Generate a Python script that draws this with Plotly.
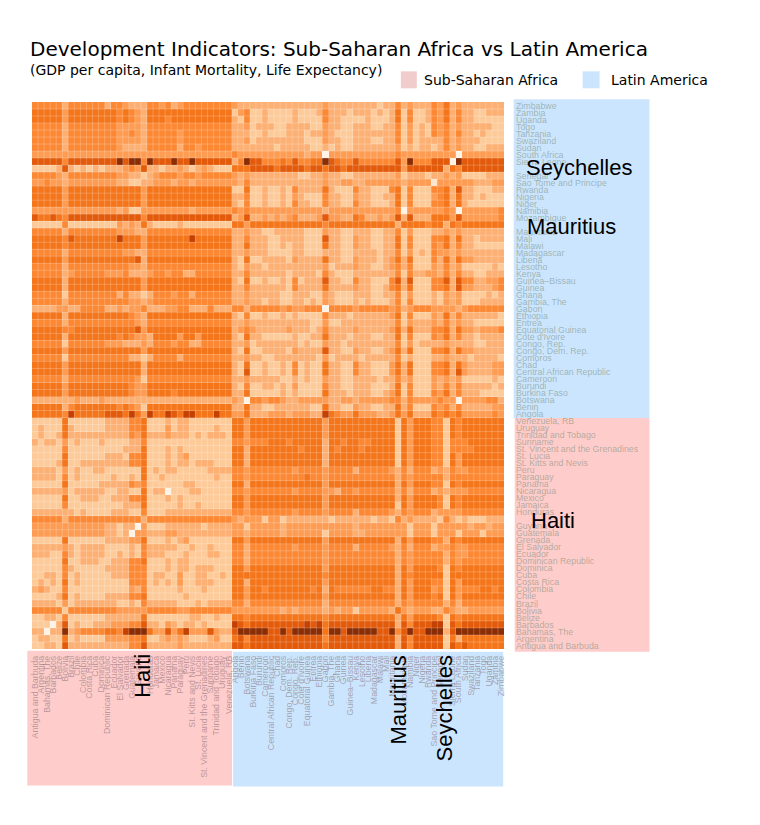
import plotly.graph_objects as go

latin = ["Antigua and Barbuda","Argentina","Bahamas, The","Barbados","Belize","Bolivia","Brazil","Chile","Colombia","Costa Rica","Cuba","Dominica","Dominican Republic","Ecuador","El Salvador","Grenada","Guatemala","Guyana","Haiti","Honduras","Jamaica","Mexico","Nicaragua","Panama","Paraguay","Peru","St. Kitts and Nevis","St. Lucia","St. Vincent and the Grenadines","Suriname","Trinidad and Tobago","Uruguay","Venezuela, RB"]
africa = ["Angola","Benin","Botswana","Burkina Faso","Burundi","Cameroon","Central African Republic","Chad","Comoros","Congo, Dem. Rep.","Congo, Rep.","Cote d'Ivoire","Equatorial Guinea","Eritrea","Ethiopia","Gabon","Gambia, The","Ghana","Guinea","Guinea\u2013Bissau","Kenya","Lesotho","Liberia","Madagascar","Malawi","Mali","Mauritania","Mauritius","Mozambique","Namibia","Niger","Nigeria","Rwanda","Sao Tome and Principe","Senegal","Seychelles","Sierra Leone","South Africa","Sudan","Swaziland","Tanzania","Togo","Uganda","Zambia","Zimbabwe"]
big_labels = ["Haiti","Mauritius","Seychelles"]

# Rows run top to bottom (Zimbabwe ... Angola), columns Antigua ... Venezuela
africa_by_latin = """
55555 3 5555553554 33 3 55453455555555
66666 4 6666666656 54 3 66666666666666
66666 4 6666666656 54 3 66656666666666
55555 3 5555555544 44 3 55555555555555
55555 3 5555555544 54 3 55555455555555
55555 3 5555555544 44 3 55555455555555
55555 3 5555555543 33 3 55555355455555
44444 4 4444444444 44 4 44444444444444
77777 5 7777777797 99 5 97779779777777
22223 7 3232323334 54 7 33233432343222
55554 3 5555555544 33 2 34555455455555
44544 3 4444444433 22 3 34443443444444
66666 4 6666666666 66 4 66666666666666
66666 4 6666666666 66 4 66666666666666
66666 4 6666666666 66 4 66666666666666
44444 4 4444444434 22 4 44444443444444
76676 5 7777777777 77 5 77777777777777
22222 5 2222222243 43 6 32222322222222
55555 3 5555555544 43 3 55555555555555
66666 5 7666666686 66 4 66666668666666
66666 5 6666666666 66 4 66666666666666
55555 3 5555555554 43 3 55555555555555
66666 4 6666666666 67 3 66666666666666
55555 3 5555555555 44 3 55555555555555
55555 3 4555554445 33 3 45545533555555
66666 3 6666666666 66 4 66666666666666
66666 3 6666666666 66 4 66666666666666
55555 2 5555555535 33 2 35554553555555
55555 3 5555555555 44 3 45555555555555
33334 4 3355553343 44 5 33344553335333
66666 3 6666666666 54 3 66666666666666
55555 3 5555555555 54 3 55555555555555
66666 5 5666666666 67 4 66666666666666
66666 3 6666666656 54 4 36666466466666
55555 2 5555554443 33 4 35554553355555
66666 4 6666666666 66 4 66666666666666
55555 2 5555555555 33 2 35555355555555
66666 4 6666666666 66 3 66666666666666
66666 4 6666666666 66 3 66666666666666
55555 3 5555555555 54 2 55555555555555
66666 4 6666666666 54 4 66666666666666
66666 4 6666666666 54 4 66665666666666
33333 3 3433343333 33 3 33333333333333
66666 3 5666666656 54 2 66666666666666
66666 5 8666667776 86 4 86687688666866
"""

africa_by_africa = """
43333 33333 33333 43333 33332 33534 33354 63433 33333
24522 32222 32223 53332 33323 23625 22354 63533 22333
32522 32222 32222 53322 22322 23625 22354 63533 22222
33423 33223 33322 43322 33322 33524 23254 53433 33322
33322 32223 33233 43222 33333 33524 23254 53533 23222
33423 33333 33222 43322 33322 33524 23333 53433 32222
33333 33233 33322 32322 33333 33423 23323 53433 22333
54444 44444 44344 04444 44444 44544 44444 44044 44444
35977 55565 75566 97655 75555 55749 55577 70977 77777
66677 77677 77677 67767 77777 77747 77777 36577 77777
43433 33333 32233 43322 33333 33423 33233 43422 22333
43533 33333 33333 43344 33444 44434 44414 44444 33344
22622 32232 53333 63222 53322 25625 22255 63733 22233
33522 32232 43222 53322 43322 33625 22245 63633 23222
32522 32232 53322 53322 53322 23625 22255 63632 22222
54544 44444 44444 34444 44444 44504 44444 54044 44445
34733 43434 53334 74433 65334 34737 33366 64744 44445
66466 66666 66666 56666 66666 66366 66566 36566 66666
33433 22333 33222 43322 33322 33524 22233 43433 33333
33533 32233 33222 73322 43322 33625 22255 63633 23333
33633 32232 33222 63322 43322 33625 22254 63533 22222
33433 32222 33222 33322 33332 33524 23254 43433 33333
32622 33332 43333 63322 43332 34636 22253 63644 33333
32433 23333 33333 42333 43322 34535 22243 53422 22232
33533 33332 33332 53222 33333 33525 33443 53533 22333
32622 32232 52333 73322 53322 25737 22255 73755 33445
33533 33332 53333 63333 43322 35636 22255 63744 33345
33433 33322 33322 43222 33322 33524 22232 43422 22323
33433 23322 33232 43222 32322 23525 22232 43422 23333
55355 55545 44555 05555 45555 54534 55544 44345 55555
32522 32232 32222 53332 33333 34625 22243 63533 33332
33433 33333 33322 42233 33333 33524 33343 53433 22222
34543 33334 33323 53333 43333 34636 33355 63644 34445
32633 22222 32233 63332 33322 33625 22254 63533 23333
33423 33333 32322 43323 33333 33524 23333 43333 22333
32622 33332 43333 73322 43322 34636 22255 63644 33333
33433 22333 33332 42333 32333 33523 22233 43332 33332
32622 32232 52322 63322 53322 24636 22255 63643 33344
32722 32232 52322 63322 53322 24636 22255 63743 33344
33433 33322 32322 43322 33332 33534 22243 43422 22232
32522 33232 42222 53322 33322 23625 22243 53533 33323
33622 22232 32222 63332 33322 34625 22254 63533 32222
43055 45543 34444 43344 34444 45535 44445 44044 44553
33633 22333 33322 63322 43322 33635 22254 53533 33344
44633 34443 44433 86544 64443 34646 33365 65644 44454
"""

# Rows run top to bottom (Venezuela ... Antigua)
latin_by_latin = """
22222 6 2222223333 55 6 22232332222222
23222 6 3222223333 55 6 22242332222322
23223 6 3333333333 54 6 33343332323332
32332 4 2322232222 33 5 22222222222222
22222 5 2222222223 33 6 22232322222222
22222 6 2222223332 55 6 22232342222222
22223 6 2233333333 55 6 22232332333222
33332 4 2322332222 22 6 23233222223333
33332 5 2322222322 32 6 22322222222322
22222 6 2222233333 54 5 22222233222222
33333 4 2333332233 22 6 23302223322222
22222 6 2233322333 55 6 22232322222222
22222 5 2222222223 33 6 22222322322222
33333 3 3232222333 22 5 22233333333333
55555 3 5555555555 55 3 55555555555555
44444 4 4444443323 30 4 22233333323333
44444 4 4444443323 04 4 33344333333333
22222 6 2222223333 44 6 22232342222222
33333 4 3233332222 32 5 33333223223222
33322 5 3233332232 32 5 33322232223322
22222 6 2233322333 55 6 22232332222222
22222 5 3222223333 55 5 22232332333222
22332 5 2322222333 55 5 23322422332232
23232 6 2322222222 55 5 23232422333222
34322 5 2222222222 43 5 22222322232222
22223 6 2322223333 55 6 22222232222222
33332 4 2333333322 32 5 33333222323333
55555 2 5555555544 44 4 55555445555555
22332 5 2222223333 33 6 22222223322322
22203 7 2322333444 55 7 33243233232222
33033 9 3455556658 99 9 64474684447433
23322 6 2322224444 55 6 22343432223422
22332 7 3333333333 55 7 33333433333333
"""

latin_by_africa = """
66 4 666666666666 4 66666666666 2 6 4 666 5 5 2 6 5 6666666
66 4 666666666666 4 66666666666 2 6 4 666 5 5 2 6 5 6666666
66 4 666666666666 4 66666666666 2 6 4 666 5 5 2 6 5 6666666
55 4 555666566666 3 66566556666 2 6 4 666 5 5 2 5 5 5666666
66 3 666666665666 3 65666566666 2 6 4 666 5 5 2 5 5 5566666
66 3 666666666666 3 66666666666 2 6 4 666 5 5 2 6 4 6666666
66 3 666666666666 3 66666666666 2 6 4 666 5 5 2 6 4 6666666
55 4 555555545555 4 55553555554 3 5 3 555 3 4 3 5 4 4555555
55 4 555555555655 4 55555555555 3 5 4 555 5 5 3 5 5 5555555
66 3 666666666666 4 66666666666 3 6 4 666 5 5 2 6 5 6666666
55 4 555555545555 4 43554555555 3 5 3 555 3 4 3 4 4 4555555
66 4 666666666666 4 66666666666 3 6 4 666 6 5 2 6 5 6666666
66 4 666666666666 4 66666666666 2 6 4 666 6 5 2 6 5 6666666
55 4 555555545555 4 55553555554 3 5 4 555 3 4 4 4 4 5555555
43 4 442442333333 3 23333332332 5 3 4 333 3 2 5 3 2 3222333
44 2 444443444444 4 44443444444 4 4 2 444 2 4 4 4 4 4344344
44 3 444443444444 2 44443344444 4 4 2 444 2 4 4 4 2 4442444
66 4 666666666666 4 66666666666 3 6 4 666 5 5 3 6 5 6666666
55 3 555555545555 4 55553555554 3 5 3 555 3 4 4 5 4 4555555
55 3 555555555555 4 55555555555 3 5 4 555 5 5 3 5 4 4555555
55 3 555555555555 4 55555555555 3 5 4 555 5 5 3 5 4 5555555
66 4 666666666666 4 66666666666 3 6 4 666 6 5 2 6 5 6666666
66 6 666666666666 5 66666666666 3 6 5 666 6 6 2 6 6 6666666
66 3 666666666666 4 66666666666 3 6 4 666 5 5 2 6 4 6666666
66 4 665666666656 3 65555556655 3 6 4 666 4 5 2 6 4 5556656
66 4 666666666666 4 66666666666 3 6 4 666 5 6 2 6 4 6666666
55 3 555555555555 3 55555555555 3 5 4 555 5 5 3 5 3 5555555
44 4 444443434444 3 43442444443 6 4 3 444 3 3 5 4 3 3444444
66 5 666666666666 5 66666666666 3 6 4 666 6 5 2 6 5 6666666
87 6 777777777878 6 77777777777 3 7 5 777 8 8 2 7 6 7777777
79 9 999779799999 6 99799999779 5 7 9 779 9 9 3 7 9 9999999
67 5 777777777777 5 77777777777 3 7 5 777 7 7 2 6 3 6666666
77 6 777777777777 6 77777777777 3 7 5 777 7 7 2 7 6 7666666
"""


def rows(block, width):
    out = []
    for line in block.strip().splitlines():
        s = line.replace(" ", "")
        s = (s + s[-1] * width)[:width]
        out.append([int(ch) for ch in s])
    return out


top = [a + b for a, b in zip(rows(africa_by_latin, len(latin)), rows(africa_by_africa, len(africa)))]
bottom = [a + b for a, b in zip(rows(latin_by_latin, len(latin)), rows(latin_by_africa, len(africa)))]
z = top + bottom

x_names = latin + africa
y_names = x_names[::-1]

# The page body has an 8 px margin, so the figure is drawn 8 px in from the window corner.
OFF = 8
W, H = 760 - OFF, 825 - OFF
L, R, T, B = 31.7 - OFF, 504.3 - OFF, 101.7 - OFF, 649.3 - OFF


def px(v):
    return (v - OFF - L) / (R - L)


def py(v):
    return 1 - (v - OFF - T) / (B - T)


colors = ["#fff3e6", "#fee6ce", "#fdcb9a", "#fdb074", "#fd9c52", "#fc8834", "#f4751a", "#e25a0a", "#c44103", "#8a2d04"]
scale = [[i / 9, c] for i, c in enumerate(colors)]

fig = go.Figure(go.Heatmap(z=z, x=x_names, y=y_names, colorscale=scale, zmin=0, zmax=9, showscale=False))


def rect(x0, y0, x1, y1, color):
    fig.add_shape(type="rect", xref="paper", yref="paper", x0=px(x0), x1=px(x1), y0=py(y0), y1=py(y1),
                  fillcolor=color, line_width=0, layer="below")


RED, BLUE = "#ffcccc", "#cce5ff"
rect(514, 99, 650, 418, BLUE)
rect(515, 418, 650, 652, RED)
rect(27, 651, 232, 786, RED)
rect(233, 652, 503.5, 787, BLUE)
rect(401, 71, 417, 88, "#f0cccc")
rect(583, 71, 600, 88, BLUE)

# Faint lighter seams between the cells
n = len(x_names)
SEAM = dict(color="rgba(255,255,255,0.22)", width=1)
for i in range(1, n):
    fig.add_shape(type="line", xref="paper", yref="paper", x0=i / n, x1=i / n, y0=0, y1=1, line=SEAM, layer="above")
    fig.add_shape(type="line", xref="paper", yref="paper", x0=0, x1=1, y0=i / n, y1=i / n, line=SEAM, layer="above")


def label(text, x, y, size, color="black", family="DejaVu Sans", angle=0, xa="left", ya="middle"):
    fig.add_annotation(text=text, xref="paper", yref="paper", x=px(x), y=py(y), showarrow=False,
                       font=dict(size=size, color=color, family=family), textangle=angle,
                       xanchor=xa, yanchor=ya, align="left", borderpad=0, borderwidth=0)


label("(GDP per capita, Infant Mortality, Life Expectancy)", 30, 70, 14)
label("Sub-Saharan Africa", 424, 80, 14)
label("Latin America", 611, 80, 14)

HELV = "Liberation Sans"
label("Seychelles", 526, 167.5, 22, family=HELV)
label("Mauritius", 527, 226.5, 22, family=HELV)
label("Haiti", 531, 521, 22, family=HELV)
label("Haiti", 143, 676, 22, family=HELV, angle=-90, xa="center")
label("Mauritius", 399, 700, 22, family=HELV, angle=-90, xa="center")
label("Seychelles", 445, 709, 22, family=HELV, angle=-90, xa="center")


def tick_text(names):
    return ["" if name in big_labels else name for name in names]


fig.update_layout(
    width=W, height=H, autosize=False,
    margin=dict(l=L, r=W - R, t=T, b=H - B, pad=0),
    paper_bgcolor="white", plot_bgcolor="white",
    title=dict(text="Development Indicators: Sub-Saharan Africa vs Latin America", x=(30 - OFF) / W, xref="container",
               xanchor="left", y=1 - (49 - OFF) / H, yanchor="middle", yref="container",
               font=dict(size=20, family="DejaVu Sans", color="black")),
    xaxis=dict(type="category", tickmode="array", tickvals=x_names, ticktext=tick_text(x_names), tickangle=-90,
               side="bottom", ticks="", showgrid=False, zeroline=False, showline=False, ticklabelstandoff=4,
               tickfont=dict(size=8.8, family=HELV, color="rgba(125,105,105,0.55)")),
    yaxis=dict(type="category", tickmode="array", tickvals=y_names, ticktext=tick_text(y_names), side="right",
               ticks="", showgrid=False, zeroline=False, showline=False, ticklabelstandoff=11,
               tickfont=dict(size=8.8, family=HELV, color="rgba(115,140,115,0.55)")),
)
fig.update_yaxes(categoryorder="array", categoryarray=y_names[::-1], range=[-0.5, len(y_names) - 0.5])

fig.write_html("out.html")
